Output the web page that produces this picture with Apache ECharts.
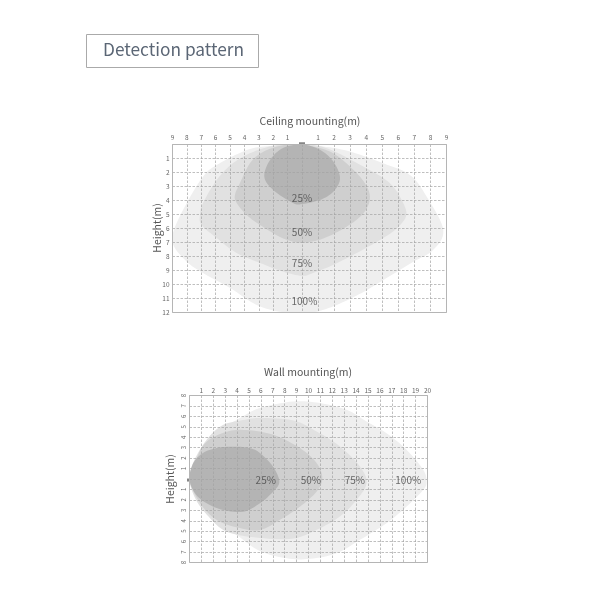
<!DOCTYPE html>
<html>

<head>
    <meta charset="utf-8">
    <title>Detection pattern</title>
    <script src="https://cdn.jsdelivr.net/npm/echarts@6/dist/echarts.min.js"></script>
    <style>
        html, body { margin: 0; padding: 0; background: #fff; }
    </style>
</head>

<body>
    <div id="main" style="width: 600px;height:600px;"></div>
    <script type="text/javascript">
        var headerText = 'Detection pattern';
        var ceilingTitle = 'Ceiling mounting(m)';
        var wallTitle = 'Wall mounting(m)';
        var heightLabel = 'Height(m)';
        var levelLabels = ['100%', '75%', '50%', '25%'];
        var levelColors = ['#efefef', '#e1e1e1', '#cfcfcf', '#b4b4b4'];

        // ceiling outlines, [metres from centre, metres down]
        var ceiling100 = [[0, 0], [1.33, 0.14], [2.99, 0.5], [5.06, 1.34], [6.72, 2.17], [7.76, 3.72], [8.8, 6.1], [8.16, 7.54], [6.91, 8.39], [5.27, 9.54], [3.72, 10.6], [2.16, 11.46], [0.92, 11.94], [0, 12], [-1.53, 11.94], [-3.15, 11.46], [-5, 10.25], [-6.88, 9.18], [-8.01, 8.37], [-8.94, 7.18], [-8.9, 6.1], [-8.01, 4.18], [-6.88, 2.3], [-5.93, 1.46], [-3.84, 0.4], [-2.2, 0.1]];
        var ceiling75 = [[0, 0], [1.54, 0.26], [3.82, 1.58], [5.48, 2.77], [6.31, 4.2], [6.47, 5.16], [5.79, 6.1], [4.86, 6.82], [3.41, 7.75], [1.93, 8.61], [0.68, 9.18], [0, 9.38], [-1.32, 9.08], [-2.92, 8.46], [-4.54, 7.75], [-5.93, 6.68], [-6.98, 5.75], [-7.09, 5.03], [-6.88, 4.18], [-5.93, 2.54], [-4.79, 1.33], [-3.4, 0.53], [-1.76, 0.05]];
        var ceiling50 = [[0, 0], [1.74, 0.5], [2.99, 1.58], [3.92, 2.77], [4.23, 3.84], [3.82, 4.92], [2.78, 5.87], [1.33, 6.71], [0, 7.02], [-1.3, 6.71], [-2.92, 5.75], [-3.84, 5.04], [-4.54, 4.18], [-4.66, 3.6], [-4.31, 2.75], [-3.61, 1.33], [-2.71, 0.53], [-1.32, 0.05]];
        var ceiling25 = [[0, 0], [1.12, 0.38], [1.95, 1.22], [2.37, 2.41], [1.95, 3.37], [1.12, 3.96], [0, 4.25], [-0.63, 4.18], [-2, 3.25], [-2.62, 2.3], [-2.22, 1.1], [-1.32, 0.25]];
        var ceilingLabelPoints = [[0.15, 11.2], [0, 8.5], [0, 6.23], [0, 3.82]];

        // wall outlines, [metres out, metres up]
        var wall100 = [[0, 0], [0.6, 2], [1.5, 3.6], [2.9, 4.9], [4.24, 5.84], [5.92, 6.8], [8.73, 7.43], [10.97, 7.27], [13.2, 6.63], [14.88, 5.51], [16.56, 4.39], [18.24, 2.8], [19.64, 0.88], [19.92, -0.24], [19.64, -1.04], [18.24, -2.64], [16.56, -4.23], [14.32, -5.83], [12.36, -7.11], [10.13, -7.65], [8.17, -7.6], [5.92, -6.9], [3.97, -5.36], [2, -3.7], [0.7, -1.9]];
        var wall75 = [[0, 0], [0.4, 1.8], [1.55, 3.92], [2.8, 5.17], [4.3, 5.6], [5.92, 5.84], [8.73, 5.61], [10.69, 4.55], [12.64, 3.12], [14.32, 1.2], [14.88, -0.4], [14.04, -2], [12.64, -3.59], [10.69, -4.87], [8.73, -5.7], [5.92, -5.65], [3.13, -5.05], [1.6, -3.6], [0.5, -1.9]];
        var wall50 = [[0, 0], [0.6, 2], [1.44, 3.57], [3.13, 4.53], [4.8, 4.69], [7.05, 4.23], [9.29, 2.96], [10.69, 1.52], [11.16, 0.08], [10.69, -1.2], [9.29, -2.64], [7.61, -3.91], [5.92, -4.89], [4.24, -4.7], [2.29, -3.93], [0.88, -2.3]];
        var wall25 = [[0, 0], [0.32, 1.53], [1.13, 2.49], [2.29, 2.97], [3.7, 3.1], [5.08, 2.95], [5.92, 2.49], [7.02, 1.18], [7.55, -0.26], [7.02, -1.22], [5.92, -2.33], [4.52, -3.13], [2.84, -2.97], [1.44, -2.33], [0.46, -1.37]];
        var wallLabelPoints = [[18.38, -0.1], [13.9, -0.1], [10.2, -0.1], [6.41, -0.1]];

        var ceilingSensor = [[0, 0]];
        var wallSensor = [[0, -0.1]];

        var fontName = '"Noto Sans CJK KR", "Noto Sans", sans-serif';
        var gridDash = { color: '#a3a3a3', width: 0.7, type: [2.5, 1.5] };

        var myChart = echarts.init(document.getElementById('main'));

        // the ceiling x scale is wider right of the sensor, so it is two grids
        function ceilingPixel(p) {
            return myChart.convertToPixel({ gridIndex: p[0] < 0 ? 0 : 1 }, p);
        }

        function wallPixel(p) {
            return myChart.convertToPixel({ gridIndex: 2 }, p);
        }

        // rounded closed curve through the outline pixels (catmull-rom)
        function roundedOutline(pts) {
            var n = pts.length;
            var out = [];
            for (var i = 0; i < n; i++) {
                var p0 = pts[(i + n - 1) % n], p1 = pts[i], p2 = pts[(i + 1) % n], p3 = pts[(i + 2) % n];
                for (var s = 0; s < 8; s++) {
                    var t = s / 8, t2 = t * t, t3 = t2 * t;
                    out.push([0, 1].map(function (k) {
                        return 0.5 * (2 * p1[k] + (p2[k] - p0[k]) * t +
                            (2 * p0[k] - 5 * p1[k] + 4 * p2[k] - p3[k]) * t2 +
                            (3 * p1[k] - p0[k] - 3 * p2[k] + p3[k]) * t3);
                    }));
                }
            }
            return out;
        }

        function outlineSeries(points, color, toPixel, gridIndex) {
            return {
                type: 'custom',
                xAxisIndex: gridIndex,
                yAxisIndex: gridIndex,
                coordinateSystem: 'cartesian2d',
                clip: false,
                silent: true,
                z: 2,
                data: [[Math.abs(points[0][0]), points[0][1]]],
                renderItem: function () {
                    return {
                        type: 'polygon',
                        shape: { points: roundedOutline(points.map(toPixel)) },
                        style: { fill: color }
                    };
                }
            };
        }

        function labelSeries(points, gridIndex) {
            return {
                type: 'scatter',
                xAxisIndex: gridIndex,
                yAxisIndex: gridIndex,
                symbolSize: 0,
                silent: true,
                z: 6,
                data: points.map(function (p, i) {
                    return { value: p, name: levelLabels[i] };
                }),
                label: {
                    show: true,
                    position: 'inside',
                    formatter: '{b}',
                    fontFamily: fontName,
                    fontSize: 10,
                    color: '#484848'
                }
            };
        }

        function sensorSeries(points, gridIndex, size, offset) {
            return {
                type: 'scatter',
                xAxisIndex: gridIndex,
                yAxisIndex: gridIndex,
                symbol: 'rect',
                symbolSize: size,
                symbolOffset: offset,
                clip: false,
                silent: true,
                z: 7,
                itemStyle: { color: '#666' },
                data: points
            };
        }

        function absLabel(v) {
            return v === 0 ? '' : String(Math.abs(v));
        }

        function xAxis(gridIndex, min, max, hideMinLine, labelMargin) {
            return {
                type: 'value',
                gridIndex: gridIndex,
                position: 'top',
                min: min,
                max: max,
                interval: 1,
                z: 5,
                axisLine: { show: false },
                axisTick: { show: false },
                axisLabel: {
                    margin: labelMargin,
                    fontSize: 6.5,
                    color: '#666',
                    fontFamily: fontName,
                    showMinLabel: true,
                    showMaxLabel: true,
                    formatter: absLabel
                },
                splitLine: { show: true, lineStyle: gridDash, showMinLine: !hideMinLine }
            };
        }

        var option = {
            animation: false,
            backgroundColor: '#fff',
            title: [
                {
                    text: ceilingTitle, left: 305, top: 111, textAlign: 'center',
                    textStyle: { fontFamily: fontName, fontSize: 10.5, fontWeight: 'normal', color: '#555' }
                },
                {
                    text: wallTitle, left: 303, top: 362, textAlign: 'center',
                    textStyle: { fontFamily: fontName, fontSize: 10.5, fontWeight: 'normal', color: '#555' }
                }
            ],
            graphic: [
                {
                    type: 'rect',
                    shape: { x: 86.5, y: 34.5, width: 172, height: 33 },
                    style: { fill: '#fff', stroke: '#aaa', lineWidth: 1 }
                },
                {
                    type: 'text',
                    x: 173.5,
                    y: 49,
                    style: {
                        text: headerText,
                        align: 'center',
                        verticalAlign: 'middle',
                        fontFamily: fontName,
                        fontSize: 17.3,
                        fill: '#5b6675'
                    }
                },
                {
                    // axis name gets pushed away from the tick labels, so placed by hand
                    type: 'text',
                    x: 157,
                    y: 228,
                    rotation: Math.PI / 2,
                    style: {
                        text: heightLabel,
                        align: 'center',
                        verticalAlign: 'middle',
                        fontFamily: fontName,
                        fontSize: 10.5,
                        fill: '#555'
                    }
                },
                {
                    type: 'rect',
                    z: 8,
                    shape: { x: 172.5, y: 144.5, width: 274, height: 168 },
                    style: { fill: 'none', stroke: '#b5b5b5', lineWidth: 1 }
                },
                {
                    type: 'rect',
                    z: 8,
                    shape: { x: 189.5, y: 395.5, width: 238, height: 167 },
                    style: { fill: 'none', stroke: '#b5b5b5', lineWidth: 1 }
                }
            ],
            grid: [
                { left: 172.5, top: 144.5, width: 129.5, height: 168 },
                { left: 302, top: 144.5, width: 144.5, height: 168 },
                { left: 189.5, top: 395.5, width: 238, height: 167 }
            ],
            xAxis: [
                xAxis(0, -9, 0, false, 4),
                xAxis(1, 0, 9, true, 4),
                xAxis(2, 0, 20, false, 2)
            ],
            yAxis: [
                {
                    type: 'value',
                    gridIndex: 0,
                    inverse: true,
                    min: 0,
                    max: 12,
                    interval: 1,
                    z: 5,
                    axisLine: { show: false },
                    axisTick: { show: false },
                    axisLabel: { margin: 3, fontSize: 6.5, color: '#666', fontFamily: fontName, formatter: absLabel },
                    splitLine: { show: true, lineStyle: gridDash }
                },
                {
                    type: 'value',
                    gridIndex: 1,
                    inverse: true,
                    min: 0,
                    max: 12,
                    interval: 1,
                    z: 5,
                    axisLine: { show: false },
                    axisTick: { show: false },
                    axisLabel: { show: false },
                    splitLine: { show: true, lineStyle: gridDash }
                },
                {
                    type: 'value',
                    gridIndex: 2,
                    min: -8,
                    max: 8,
                    interval: 1,
                    z: 5,
                    name: heightLabel,
                    nameLocation: 'middle',
                    nameGap: 14,
                    nameTextStyle: { fontFamily: fontName, fontSize: 10.5, color: '#555' },
                    axisLine: { show: false },
                    axisTick: { show: false },
                    axisLabel: { margin: 3, rotate: 90, fontSize: 6, color: '#666', fontFamily: fontName, formatter: absLabel },
                    splitLine: { show: true, lineStyle: gridDash }
                }
            ],
            series: [
                outlineSeries(ceiling100, levelColors[0], ceilingPixel, 1),
                outlineSeries(ceiling75, levelColors[1], ceilingPixel, 1),
                outlineSeries(ceiling50, levelColors[2], ceilingPixel, 1),
                outlineSeries(ceiling25, levelColors[3], ceilingPixel, 1),
                labelSeries(ceilingLabelPoints, 1),
                sensorSeries(ceilingSensor, 1, [6, 2.5], [0, -1]),
                outlineSeries(wall100, levelColors[0], wallPixel, 2),
                outlineSeries(wall75, levelColors[1], wallPixel, 2),
                outlineSeries(wall50, levelColors[2], wallPixel, 2),
                outlineSeries(wall25, levelColors[3], wallPixel, 2),
                labelSeries(wallLabelPoints, 2),
                sensorSeries(wallSensor, 2, [3, 3], [-1, 0])
            ]
        };

        myChart.setOption(option);
    </script>

</body>

</html>
